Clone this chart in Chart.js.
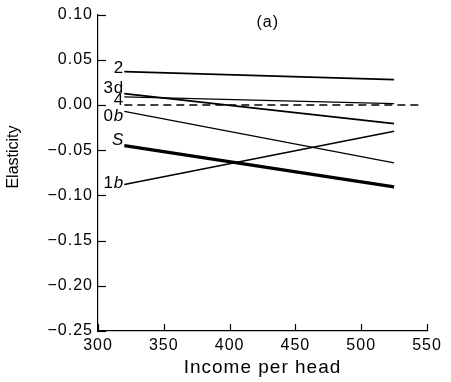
<!DOCTYPE html>
<html>
<head>
<meta charset="utf-8">
<script src="https://cdn.jsdelivr.net/npm/chart.js@4"></script>
<style>
  html, body { margin: 0; padding: 0; background: #fff; }
  #chart { display: block; }
</style>
</head>
<body>
<canvas id="chart" width="451" height="382"></canvas>
<script>
// income per head where each curve starts and ends
const incomeAt = [320, 525]
const zeroLineAt = [320, 546]

// elasticity at the two ends of each curve
const series2 = [0.037, 0.028]
const series3d = [0.0125, -0.0205]
const series4 = [0.009, 0.0015]
const series0b = [-0.007, -0.064]
const seriesS = [-0.045, -0.0905]
const series1b = [-0.088, -0.029]
const zeroLine = [0, 0]

const FONT = "'Liberation Sans', Arial, Helvetica, sans-serif"

function pts (xs, ys) {
  return xs.map((x, i) => ({ x: x, y: ys[i] }))
}

function line (label, xs, ys, width, dash) {
  return {
    label: label,
    data: pts(xs, ys),
    borderColor: '#000',
    borderWidth: width,
    borderDash: dash || [],
    pointRadius: 0,
    fill: false
  }
}

// text drawn at the left end of each curve, parts flagged italic
const curveLabels = [
  { parts: [['2', false]], value: series2[0], dy: -3 },
  { parts: [['3d', false]], value: series3d[0], dy: -5 },
  { parts: [['4', false]], value: series4[0], dy: 3 },
  { parts: [['0', false], ['b', true]], value: series0b[0], dy: 5 },
  { parts: [['S', true]], value: seriesS[0], dy: -5 },
  { parts: [['1', false], ['b', true]], value: series1b[0], dy: -1 }
]

const spacing = {
  id: 'spacing',
  beforeDraw (chart) {
    chart.ctx.letterSpacing = '1px'
  }
}

const decorations = {
  id: 'decorations',
  afterDraw (chart) {
    const ctx = chart.ctx
    const x = chart.scales.x
    const y = chart.scales.y
    const area = chart.chartArea
    ctx.save()
    ctx.strokeStyle = '#000'
    ctx.lineWidth = 1.2
    // inward tick marks
    y.ticks.forEach(t => {
      const py = Math.round(y.getPixelForValue(t.value)) + 0.5
      ctx.beginPath()
      ctx.moveTo(area.left, py)
      ctx.lineTo(area.left + 8, py)
      ctx.stroke()
    })
    x.ticks.forEach(t => {
      const px = Math.round(x.getPixelForValue(t.value)) + 0.5
      ctx.beginPath()
      ctx.moveTo(px, area.bottom)
      ctx.lineTo(px, area.bottom - 7)
      ctx.stroke()
    })

    // curve labels
    ctx.fillStyle = '#000'
    ctx.textBaseline = 'middle'
    ctx.textAlign = 'left'
    ctx.letterSpacing = '1px'
    const right = x.getPixelForValue(incomeAt[0])
    curveLabels.forEach(l => {
      let w = 0
      l.parts.forEach(p => {
        ctx.font = (p[1] ? 'italic ' : '') + '17px ' + FONT
        w += ctx.measureText(p[0]).width
      })
      let px = right - w
      const py = y.getPixelForValue(l.value) + l.dy
      l.parts.forEach(p => {
        ctx.font = (p[1] ? 'italic ' : '') + '17px ' + FONT
        ctx.fillText(p[0], px, py)
        px += ctx.measureText(p[0]).width
      })
    })

    // panel tag
    ctx.font = '16px ' + FONT
    ctx.textAlign = 'center'
    ctx.fillText('(a)', x.getPixelForValue(429), y.getPixelForValue(0.091))

    // y axis title
    ctx.letterSpacing = '0px'
    ctx.translate(14, 157)
    ctx.rotate(-Math.PI / 2)
    ctx.font = '16px ' + FONT
    ctx.fillText('Elasticity', 0, 0)
    ctx.restore()
  }
}

new Chart(document.getElementById('chart'), {
  type: 'line',
  data: {
    datasets: [
      line('zero', zeroLineAt, zeroLine, 1.3, [8, 5]),
      line('2', incomeAt, series2, 1.8),
      line('3d', incomeAt, series3d, 1.8),
      line('4', incomeAt, series4, 1.3),
      line('0b', incomeAt, series0b, 1.2),
      line('S', incomeAt, seriesS, 3.2),
      line('1b', incomeAt, series1b, 1.6)
    ]
  },
  options: {
    responsive: false,
    animation: false,
    layout: { padding: { top: 12, right: 24, left: 0, bottom: 0 } },
    plugins: {
      legend: { display: false },
      tooltip: { enabled: false }
    },
    scales: {
      x: {
        type: 'linear',
        min: 300,
        max: 550,
        ticks: { stepSize: 50, padding: 5, color: '#000', font: { family: FONT, size: 16 } },
        grid: { display: false, drawTicks: false },
        border: { display: true, color: '#000', width: 1.2 },
        title: {
          display: true,
          text: 'Income per head',
          color: '#000',
          font: { family: FONT, size: 19 },
          padding: { top: 0, bottom: 3 }
        },
        afterFit (scale) { scale.height = 51 }
      },
      y: {
        min: -0.25,
        max: 0.10,
        ticks: {
          stepSize: 0.05,
          padding: 5,
          color: '#000',
          font: { family: FONT, size: 16 },
          callback: v => (Math.abs(v) < 1e-9 ? 0 : v).toFixed(2).replace('-', '\u2212')
        },
        grid: { display: false, drawTicks: false },
        border: { display: true, color: '#000', width: 1.2 },
        afterFit (scale) { scale.width = 98 }
      }
    }
  },
  plugins: [spacing, decorations]
})
</script>
</body>
</html>
